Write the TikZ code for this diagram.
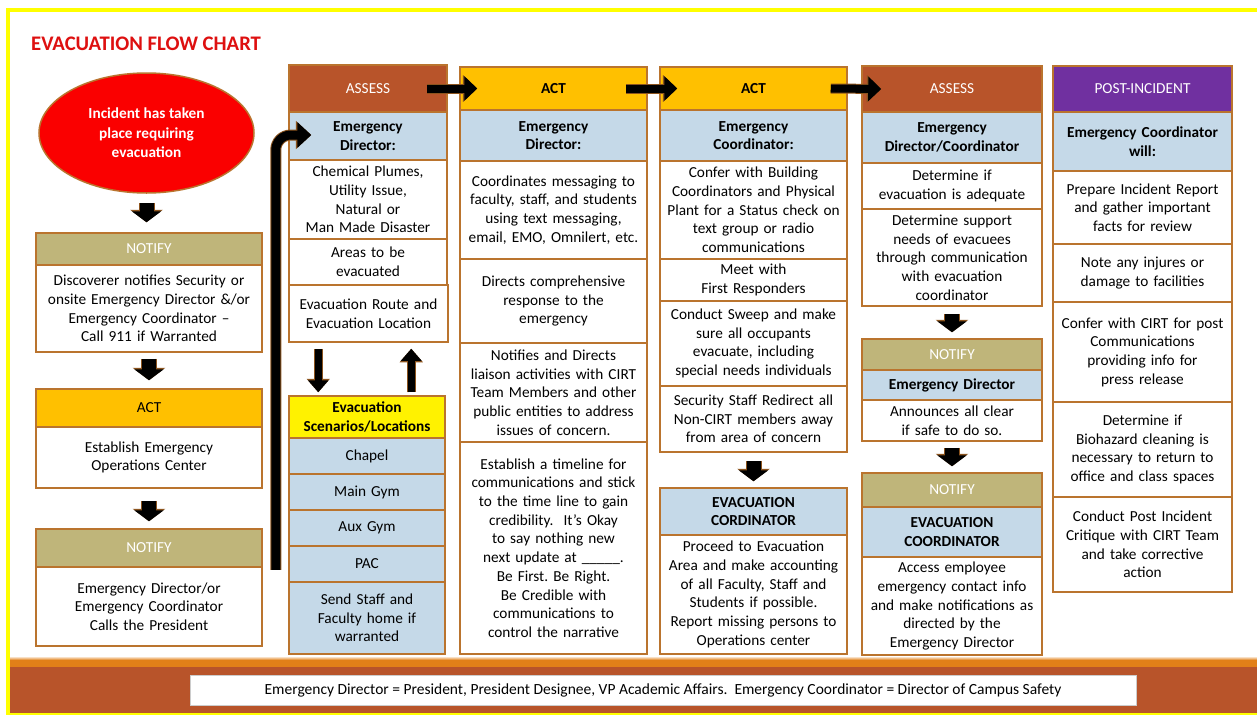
\documentclass[tikz,border=0pt]{standalone}
\usepackage{fontspec}
\setmainfont{Carlito}
\usetikzlibrary{arrows.meta,calc,shapes.geometric}
\frenchspacing
\definecolor{rim}{RGB}{186,116,46}
\definecolor{arrim}{RGB}{140,84,30}
\definecolor{rustc}{RGB}{184,84,42}
\definecolor{actc}{RGB}{255,192,0}
\definecolor{olivec}{RGB}{191,181,122}
\definecolor{lbluec}{RGB}{197,217,232}
\definecolor{purpc}{RGB}{112,48,160}
\definecolor{incred}{RGB}{250,0,0}
\definecolor{titlered}{RGB}{222,16,16}
\definecolor{stripec}{RGB}{226,128,24}
\definecolor{framey}{RGB}{255,255,0}
\newcommand\mkcell[7]{%
  \pgfmathsetmacro\mkW{#4-#2}%
  \pgfmathsetmacro\mkH{#5-#3}%
  \pgfmathsetmacro\mkT{#4-#2-4}%
  \pgfmathsetmacro\mkX{(#2+#4)/2}%
  \pgfmathsetmacro\mkY{(#3+#5)/2}%
  \node[boxcell,#6,minimum width=\mkW pt,minimum height=\mkH pt,text width=\mkT pt] (#1) at (\mkX,\mkY) {#7};}
\tikzset{
  boxcell/.style={draw=rim, line width=1.5pt, fill=white, align=center, inner sep=0pt, text=black,
    font=\fontsize{15.3}{18.7}\selectfont},
  hrust/.style={fill=rustc, text=white},
  hact/.style={fill=actc, text=black},
  hactb/.style={fill=actc, text=black, font=\fontsize{15.3}{18.7}\selectfont\bfseries},
  holive/.style={fill=olivec, text=white},
  hpurp/.style={fill=purpc, text=white},
  bluebold/.style={fill=lbluec, font=\fontsize{15.3}{18.7}\selectfont\bfseries},
  blueplain/.style={fill=lbluec},
  yelbold/.style={fill=yellow, font=\fontsize{15.3}{18.7}\selectfont\bfseries},
  fatarr/.style={draw=black, line width=14pt, -{Triangle[width=29pt,length=11pt]},
    preaction={draw=arrim, line width=16pt, -{Triangle[width=32pt,length=12.5pt]}}},
  harr/.style={draw=black, line width=8pt, -{Triangle[width=24pt,length=13pt]},
    preaction={draw=arrim, line width=10pt, -{Triangle[width=26.5pt,length=14.5pt]}}},
  varr/.style={draw=black, line width=7pt, -{Triangle[width=20pt,length=12pt]},
    preaction={draw=arrim, line width=9pt, -{Triangle[width=22.5pt,length=13.5pt]}}},
  bigarr/.style={draw=black, line width=9pt, -{Triangle[width=25pt,length=14pt]},
    preaction={draw=arrim, line width=11pt, -{Triangle[width=27.5pt,length=15.5pt]}}},
}
\begin{document}
\begin{tikzpicture}[x=1pt,y=-1pt]
\useasboundingbox (0,0) rectangle (1257,715);
\fill[white] (0,0) rectangle (1257,715);
% frame and bottom band
\fill[framey] (6,8) rectangle (1257,12);
\fill[framey] (6,8) rectangle (10,715);
\fill[framey] (6,713) rectangle (1257,715);
\shade[top color=white, bottom color=stripec] (10,656) rectangle (1257,660);
\fill[stripec] (10,660) rectangle (1257,667);
\fill[rustc] (10,667) rectangle (1257,713);
\node[fill=white, draw=black!20, line width=0.6pt, minimum width=946pt, minimum height=30pt, inner sep=0pt,
  font=\fontsize{15.5}{18}\selectfont] (foot) at (663,690)
  {Emergency Director = President, President Designee, VP Academic Affairs.\ \ Emergency Coordinator = Director of Campus Safety};
% title
\node[anchor=base west, inner sep=0pt, text=titlered, font=\fontsize{20.7}{24}\selectfont\bfseries] (title) at (31,50) {EVACUATION FLOW CHART};
% left column
\node[ellipse, fill=incred, draw=rim, line width=1.5pt, minimum width=215pt, minimum height=120pt, inner sep=0pt,
  align=center, text=white, font=\fontsize{15.3}{19.5}\selectfont\bfseries] (inc) at (146.5,133)
  {Incident has taken\\place requiring\\evacuation};
\mkcell{n1h}{36}{233}{262}{265}{holive}{NOTIFY}
\mkcell{n1b}{36}{265}{262}{352}{}{Discoverer notifies Security or\\onsite Emergency Director \&/or\\Emergency Coordinator --\\Call 911 if Warranted}
\mkcell{a1h}{36}{389}{262}{427}{hact}{ACT}
\mkcell{a1b}{36}{427}{262}{488}{}{Establish Emergency\\Operations Center}
\mkcell{n2h}{36}{529}{262}{567}{holive}{NOTIFY}
\mkcell{n2b}{36}{567}{262}{646}{}{Emergency Director/or\\Emergency Coordinator\\Calls the President}
% column 2
\mkcell{s1h}{289}{65}{447}{112}{hrust}{ASSESS}
\mkcell{s1d}{289}{112}{447}{160}{bluebold}{Emergency\\Director:}
\mkcell{s1a}{289}{160}{447}{239}{}{Chemical Plumes,\\Utility Issue,\\Natural or\\Man Made Disaster}
\mkcell{s1b}{289}{239}{447}{285}{}{Areas to be\\evacuated}
\mkcell{s1c}{289}{285}{448}{342}{}{Evacuation Route and\\Evacuation Location}
\mkcell{sc}{289}{396}{445}{438}{yelbold}{Evacuation\\Scenarios/Locations}
\mkcell{l1}{289}{438}{445}{474}{blueplain}{Chapel}
\mkcell{l2}{289}{474}{445}{510}{blueplain}{Main Gym}
\mkcell{l3}{289}{510}{445}{546}{blueplain}{Aux Gym}
\mkcell{l4}{289}{546}{445}{582}{blueplain}{PAC}
\mkcell{l5}{289}{582}{445}{654}{blueplain}{Send Staff and\\Faculty home if\\warranted}
% column 3
\mkcell{c3h}{460}{67}{647}{110}{hactb}{ACT}
\mkcell{c3d}{460}{110}{647}{161}{bluebold}{Emergency\\Director:}
\mkcell{c3a}{460}{161}{647}{259}{}{Coordinates messaging to\\faculty, staff, and students\\using text messaging,\\email, EMO, Omnilert, etc.}
\mkcell{c3b}{460}{259}{647}{343}{}{Directs comprehensive\\response to the\\emergency}
\mkcell{c3c}{460}{343}{647}{442}{}{Notifies and Directs\\liaison activities with CIRT\\Team Members and other\\public entities to address\\issues of concern.}
\mkcell{c3e}{460}{442}{647}{654}{}{Establish a timeline for\\communications and stick\\to the time line to gain\\credibility.\ \ It’s Okay\\to say nothing new\\next update at \_\_\_\_\_.\\Be First. Be Right.\\Be Credible with\\communications to\\control the narrative}
% column 4
\mkcell{c4h}{660}{67}{847}{110}{hactb}{ACT}
\mkcell{c4d}{660}{110}{847}{161}{bluebold}{Emergency\\Coordinator:}
\mkcell{c4a}{660}{161}{847}{259}{}{Confer with Building\\Coordinators and Physical\\Plant for a Status check on\\text group or radio\\communications}
\mkcell{c4b}{660}{259}{847}{301}{}{Meet with\\First Responders}
\mkcell{c4c}{660}{301}{847}{386}{}{Conduct Sweep and make\\sure all occupants\\evacuate, including\\special needs individuals}
\mkcell{c4e}{660}{386}{847}{452}{}{Security Staff Redirect all\\Non-CIRT members away\\from area of concern}
\mkcell{c4v}{660}{488}{847}{535}{bluebold}{EVACUATION\\CORDINATOR}
\mkcell{c4w}{660}{535}{847}{654}{}{Proceed to Evacuation\\Area and make accounting\\of all Faculty, Staff and\\Students if possible.\\Report missing persons to\\Operations center}
% column 5
\mkcell{c5h}{862}{66}{1042}{112}{hrust}{ASSESS}
\mkcell{c5d}{862}{112}{1042}{163}{bluebold}{Emergency\\Director/Coordinator}
\mkcell{c5a}{862}{163}{1042}{209}{}{Determine if\\evacuation is adequate}
\mkcell{c5b}{862}{209}{1042}{306}{}{Determine support\\needs of evacuees\\through communication\\with evacuation\\coordinator}
\mkcell{c5n}{862}{339}{1042}{370}{holive}{NOTIFY}
\mkcell{c5e}{862}{370}{1042}{400}{bluebold}{Emergency Director}
\mkcell{c5f}{862}{400}{1042}{441}{}{Announces all clear\\if safe to do so.}
\mkcell{c5m}{862}{473}{1042}{507}{holive}{NOTIFY}
\mkcell{c5v}{862}{507}{1042}{557}{bluebold}{EVACUATION\\COORDINATOR}
\mkcell{c5w}{862}{557}{1042}{655}{}{Access employee\\emergency contact info\\and make notifications as\\directed by the\\Emergency Director}
% column 6
\mkcell{c6h}{1053}{66}{1232}{112}{hpurp}{POST-INCIDENT}
\mkcell{c6d}{1053}{112}{1232}{171}{bluebold}{Emergency Coordinator\\will:}
\mkcell{c6a}{1053}{171}{1232}{244}{}{Prepare Incident Report\\and gather important\\facts for review}
\mkcell{c6b}{1053}{244}{1232}{302}{}{Note any injures or\\damage to facilities}
\mkcell{c6c}{1053}{302}{1232}{402}{}{Confer with CIRT for post\\Communications\\providing info for\\press release}
\mkcell{c6e}{1053}{402}{1232}{497}{}{Determine if\\Biohazard cleaning is\\necessary to return to\\office and class spaces}
\mkcell{c6f}{1053}{497}{1232}{592}{}{Conduct Post Incident\\Critique with CIRT Team\\and take corrective\\action}
% block arrows, left column
\draw[fatarr] ($(inc.south)+(0,9)$) -- ($(inc.south|-n1h.north)+(0,-10)$);
\draw[fatarr] ($(n1b.south)+(0,6)$) -- ($(a1h.north)+(0,-8)$);
\draw[fatarr] ($(a1b.south)+(0,12)$) -- ($(n2h.north)+(0,-7)$);
% block arrows, right columns
\draw[fatarr] ($(c4e.south)+(0,8)$) -- ($(c4v.north)+(0,-6)$);
\draw[fatarr] ($(c5b.south)+(0,7)$) -- ($(c5n.north)+(0,-6)$);
\draw[fatarr] ($(c5f.south)+(0,6)$) -- ($(c5m.north)+(0,-6)$);
% header arrows
\draw[harr] ($(s1h.east)+(-21,0)$) -- ($(c3h.west)+(18,0)$);
\draw[harr] ($(c3h.east)+(-22,0)$) -- ($(c4h.west)+(18,0)$);
\draw[harr] ($(c4h.east)+(-17,0)$) -- ($(c5h.west)+(20,0)$);
% column 2 small arrows
\draw[varr] ($(s1c.south west)+(30,6)$) -- ($(sc.north west)+(30,-3)$);
\draw[varr] ($(sc.north west)+(123,-3)$) -- ($(s1c.south west)+(123,6)$);
% big bent arrow
\draw[bigarr, rounded corners=15pt] ($(n2h.south east)+(13,2)$) |- ($(s1d.west)+(23,-1)$);
\end{tikzpicture}
\end{document}
